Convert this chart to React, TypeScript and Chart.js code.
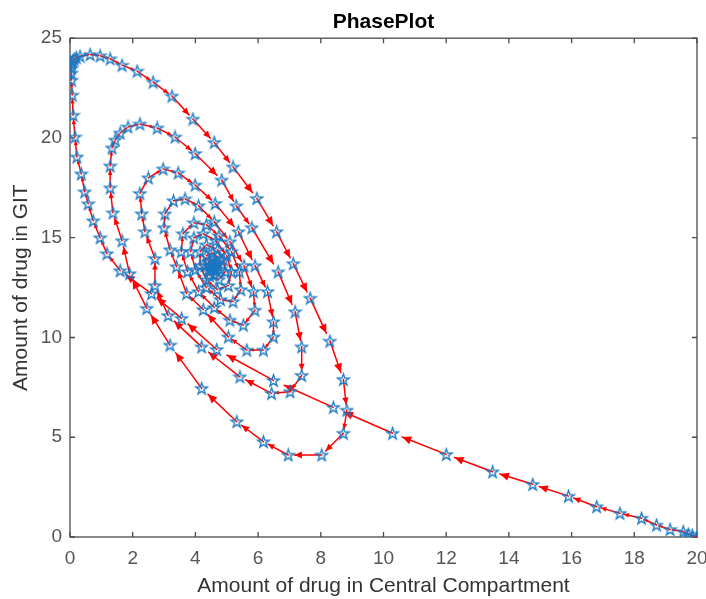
import { useEffect, useRef } from "react";
import { Chart, registerables } from "chart.js";

Chart.register(...registerables);

// ---- text ----
const titleText = "PhasePlot";
const xAxisLabel = "Amount of drug in Central Compartment";
const yAxisLabel = "Amount of drug in GIT";

// ---- axis ranges / ticks ----
const xTickValues = [0, 2, 4, 6, 8, 10, 12, 14, 16, 18, 20];
const yTickValues = [0, 5, 10, 15, 20, 25];

// ---- trajectory: [central, GIT] ----
const releaseLine: [number, number][] = [
  [20, 0], [19.85, 0.08], [19.72, 0.15], [19.56, 0.27], [19.14, 0.38], [18.71, 0.6],
  [18.23, 0.94], [17.54, 1.19], [16.8, 1.52], [15.9, 2.05], [14.76, 2.64],
  [13.48, 3.27], [12.0, 4.14], [10.29, 5.2], [8.4, 6.5], [6.49, 7.85],
  [4.68, 9.4], [3.56, 10.96], [2.6, 12.2], [1.6, 13.35],
];

const loop1: [number, number][] = [
  [1.18, 14.2], [0.96, 15.0], [0.74, 15.85], [0.58, 16.7], [0.47, 17.3],
  [0.36, 18.2], [0.22, 19.05], [0.16, 20.05], [0.1, 21.14], [0.07, 22.15],
  [0.05, 22.9], [0.04, 23.25], [0.04, 23.5], [0.05, 23.7], [0.08, 23.85],
  [0.13, 23.95], [0.2, 24.03], [0.32, 24.1], [0.64, 24.18], [0.96, 24.12],
  [1.28, 23.97], [1.66, 23.65], [2.14, 23.35], [2.65, 22.8], [3.25, 22.1],
  [3.92, 20.95], [4.6, 19.78], [5.2, 18.55], [5.96, 16.97], [6.59, 15.3],
  [7.12, 13.7], [7.66, 11.97], [8.29, 9.82], [8.72, 7.9], [8.83, 6.36],
  [8.72, 5.2], [8.03, 4.11], [6.96, 4.11], [6.17, 4.78], [5.32, 5.78],
  [4.2, 7.45], [3.19, 9.62], [2.45, 11.46], [1.9, 13.2],
];

const loop2: [number, number][] = [
  [1.66, 14.85], [1.37, 16.25], [1.28, 17.5], [1.28, 18.6], [1.34, 19.5],
  [1.44, 19.9], [1.6, 20.25], [1.85, 20.55], [2.23, 20.7], [2.78, 20.5],
  [3.35, 20.05], [3.99, 19.22], [4.84, 17.89], [5.3, 16.6], [5.8, 15.5],
  [6.64, 13.29], [7.18, 11.29], [7.39, 9.53], [7.39, 8.1], [7.02, 7.28],
  [6.43, 7.2], [5.42, 8.03], [4.2, 9.53], [3.13, 11.1], [2.71, 12.6],
  [2.71, 13.96],
];

const loop3: [number, number][] = [
  [2.39, 15.3], [2.29, 16.2], [2.23, 17.22], [2.5, 18.0], [2.97, 18.45],
  [3.45, 18.25], [3.99, 17.64], [4.63, 16.72], [5.37, 15.3], [5.9, 13.6],
  [6.3, 12.3], [6.49, 10.79], [6.49, 10.03], [6.17, 9.37], [5.64, 9.37],
  [5.05, 10.03], [4.25, 11.4], [3.72, 12.2], [3.4, 13.55], [3.19, 14.4],
  [3.0, 15.5],
];

const loop4: [number, number][] = [
  [3.03, 16.2], [3.3, 16.85], [3.67, 16.95], [4.1, 16.6], [4.6, 15.8],
  [5.1, 14.8], [5.55, 13.6], [5.85, 12.3], [5.9, 11.37], [5.53, 10.62],
  [5.1, 10.87], [4.6, 11.5], [4.1, 12.3], [3.75, 13.3], [3.55, 14.3],
  [3.6, 15.2],
];

const loop5: [number, number][] = [
  [3.95, 15.75], [4.35, 15.65], [4.75, 15.1], [5.15, 14.3], [5.4, 13.3],
  [5.45, 12.4], [5.2, 11.8], [4.8, 11.9], [4.35, 12.5], [4.0, 13.4],
  [3.85, 14.3], [3.95, 15.0],
];

const loop6: [number, number][] = [
  [4.25, 15.2], [4.65, 14.85], [5.0, 14.1], [5.15, 13.3], [5.05, 12.6],
  [4.7, 12.4], [4.35, 12.9], [4.15, 13.6], [4.15, 14.3], [4.35, 14.65],
];

const loop7: [number, number][] = [
  [4.7, 14.4], [4.9, 13.9], [4.95, 13.3], [4.75, 12.9], [4.45, 13.1],
  [4.3, 13.6], [4.35, 14.1], [4.55, 14.25],
];

const loop8: [number, number][] = [
  [4.78, 13.9], [4.8, 13.4], [4.6, 13.15], [4.42, 13.4], [4.42, 13.8],
  [4.6, 13.95], [4.7, 13.7], [4.65, 13.4], [4.5, 13.4], [4.5, 13.65],
  [4.6, 13.7], [4.62, 13.52], [4.55, 13.48], [4.57, 13.58], [4.58, 13.53],
];

const trajectory: [number, number][] = [
  ...releaseLine, ...loop1, ...loop2, ...loop3, ...loop4,
  ...loop5, ...loop6, ...loop7, ...loop8,
];

const FONT = "'Liberation Sans', Arial, Helvetica, sans-serif";

function makePentagram(): HTMLCanvasElement {
  const s = 15;
  const c = document.createElement("canvas");
  c.width = s;
  c.height = s;
  const ctx = c.getContext("2d")!;
  const R = 6.2;
  const r = R * 0.382;
  const cx = s / 2;
  const cy = s / 2 + 0.5;
  ctx.beginPath();
  for (let k = 0; k < 10; k++) {
    const ang = -Math.PI / 2 + (k * Math.PI) / 5;
    const rad = k % 2 === 0 ? R : r;
    const px = cx + rad * Math.cos(ang);
    const py = cy + rad * Math.sin(ang);
    if (k === 0) ctx.moveTo(px, py);
    else ctx.lineTo(px, py);
  }
  ctx.closePath();
  ctx.strokeStyle = "#1a78c2";
  ctx.lineWidth = 1.3;
  ctx.stroke();
  return c;
}

const axesBoxPlugin = {
  id: "axesBox",
  beforeDatasetsDraw(chart: any) {
    const { ctx, chartArea, scales } = chart;
    const xs = scales.x;
    const ys = scales.y;
    const { left, right, top, bottom } = chartArea;
    ctx.save();
    ctx.strokeStyle = "#4a4a4a";
    ctx.lineWidth = 1.3;
    ctx.strokeRect(left, top, right - left, bottom - top);
    const tl = 5;
    ctx.beginPath();
    for (const v of xTickValues) {
      const px = xs.getPixelForValue(v);
      ctx.moveTo(px, bottom);
      ctx.lineTo(px, bottom - tl);
      ctx.moveTo(px, top);
      ctx.lineTo(px, top + tl);
    }
    for (const v of yTickValues) {
      const py = ys.getPixelForValue(v);
      ctx.moveTo(left, py);
      ctx.lineTo(left + tl, py);
      ctx.moveTo(right, py);
      ctx.lineTo(right - tl, py);
    }
    ctx.stroke();

    // quiver arrows between consecutive states
    ctx.strokeStyle = "#ff0000";
    ctx.fillStyle = "#ff0000";
    ctx.lineWidth = 1.5;
    ctx.lineCap = "round";
    for (let i = 0; i < trajectory.length - 1; i++) {
      const x0 = xs.getPixelForValue(trajectory[i][0]);
      const y0 = ys.getPixelForValue(trajectory[i][1]);
      const x1 = xs.getPixelForValue(trajectory[i + 1][0]);
      const y1 = ys.getPixelForValue(trajectory[i + 1][1]);
      const dx = (x1 - x0) * 0.82;
      const dy = (y1 - y0) * 0.82;
      const len = Math.hypot(dx, dy);
      if (len < 0.5) continue;
      const ex = x0 + dx;
      const ey = y0 + dy;
      ctx.beginPath();
      ctx.moveTo(x0, y0);
      ctx.lineTo(ex, ey);
      ctx.stroke();
      const h = Math.min(9, Math.max(3, len * 0.28));
      const w = h * 0.45;
      const ux = dx / len;
      const uy = dy / len;
      ctx.beginPath();
      ctx.moveTo(ex, ey);
      ctx.lineTo(ex - ux * h - uy * w, ey - uy * h + ux * w);
      ctx.lineTo(ex - ux * h + uy * w, ey - uy * h - ux * w);
      ctx.closePath();
      ctx.fill();
    }
    ctx.restore();
  },
};

export default function App() {
  const canvasRef = useRef<HTMLCanvasElement | null>(null);

  useEffect(() => {
    document.body.style.margin = "0";
    const canvas = canvasRef.current;
    if (!canvas) return;
    const star = makePentagram();
    const chart = new Chart(canvas, {
      type: "scatter",
      data: {
        datasets: [
          {
            label: "state",
            data: trajectory.map(([x, y]) => ({ x, y })),
            pointStyle: star as any,
            pointRadius: 6,
            showLine: false,
          },
        ],
      },
      options: {
        animation: false,
        responsive: false,
        devicePixelRatio: 1,
        layout: { padding: { left: 0, right: 9, top: 0, bottom: 0 } },
        plugins: {
          legend: { display: false },
          tooltip: { enabled: false },
          title: {
            display: true,
            text: titleText,
            fullSize: false,
            color: "#000000",
            font: { family: FONT, size: 21, weight: "bold" },
            padding: { top: 10, bottom: 3 },
          },
        },
        scales: {
          x: {
            type: "linear",
            min: 0,
            max: 20,
            ticks: {
              stepSize: 2,
              color: "#555555",
              font: { family: FONT, size: 19 },
              padding: 10,
              maxRotation: 0,
            },
            grid: { display: false, drawTicks: false },
            border: { display: false },
            title: {
              display: true,
              text: xAxisLabel,
              color: "#333333",
              font: { family: FONT, size: 21 },
              padding: { top: 0, bottom: 0 },
            },
            afterFit(scale: any) {
              scale.height = 62;
              scale.paddingLeft = 0;
              scale.paddingRight = 0;
            },
          },
          y: {
            type: "linear",
            min: 0,
            max: 25,
            ticks: {
              stepSize: 5,
              color: "#555555",
              font: { family: FONT, size: 19 },
              padding: 8,
            },
            grid: { display: false, drawTicks: false },
            border: { display: false },
            title: {
              display: true,
              text: yAxisLabel,
              color: "#333333",
              font: { family: FONT, size: 21 },
              padding: { top: 9, bottom: 0 },
            },
            afterFit(scale: any) {
              scale.width = 70;
              scale.paddingTop = 0;
              scale.paddingBottom = 0;
            },
          },
        },
      },
      plugins: [axesBoxPlugin],
    });
    return () => chart.destroy();
  }, []);

  return (
    <div style={{ position: "fixed", left: 0, top: 0, width: 706, height: 599, background: "#fff" }}>
      <canvas ref={canvasRef} width={706} height={599} style={{ width: 706, height: 599, display: "block" }} />
    </div>
  );
}
